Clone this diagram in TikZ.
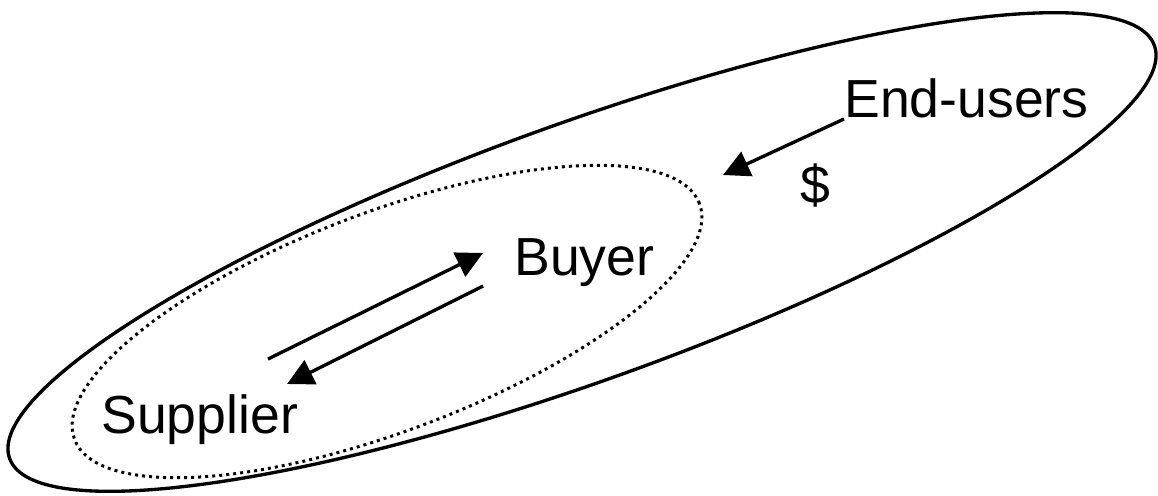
\documentclass[tikz,border=0pt]{standalone}
\usepackage{fontspec}
\setmainfont{Liberation Sans}
\usetikzlibrary{arrows.meta}
\begin{document}
\begin{tikzpicture}[
  lbl/.style={inner sep=0pt, anchor=base west, font=\fontsize{30.5}{36}\selectfont},
  flow/.style={line width=1.9pt, -{Triangle[length=15pt,width=15pt]}},
  outerring/.style={line width=1.9pt},
  innerring/.style={line width=1.7pt, dash pattern=on 1.7pt off 2.3pt}
]
\useasboundingbox (0,0) rectangle (23.16,-9.9);
\draw[outerring, rotate around={19.84:(11.64,-5.04)}] (11.64,-5.04) ellipse [x radius=12.17cm, y radius=2.57cm];
\draw[innerring, rotate around={20.68:(7.74,-6.43)}] (7.74,-6.43) ellipse [x radius=6.68cm, y radius=2.19cm];
\node[lbl] (end) at (16.88,-2.34) {End-users};
\node[lbl, anchor=base] (dollar) at (16.3,-4.06) {\$};
\node[lbl] (buyer) at (10.28,-5.5) {Buyer};
\node[lbl] (supplier) at (2.02,-8.66) {Supplier};
\coordinate (eu1) at (16.88,-2.38);
\coordinate (eu2) at (14.46,-3.5);
\coordinate (sb1) at (5.36,-7.18);
\coordinate (sb2) at (9.66,-5.06);
\coordinate (bs1) at (9.66,-5.72);
\coordinate (bs2) at (5.74,-7.68);
\draw[flow] (eu1) -- (eu2);
\draw[flow] (sb1) -- (sb2);
\draw[flow] (bs1) -- (bs2);
\end{tikzpicture}
\end{document}
